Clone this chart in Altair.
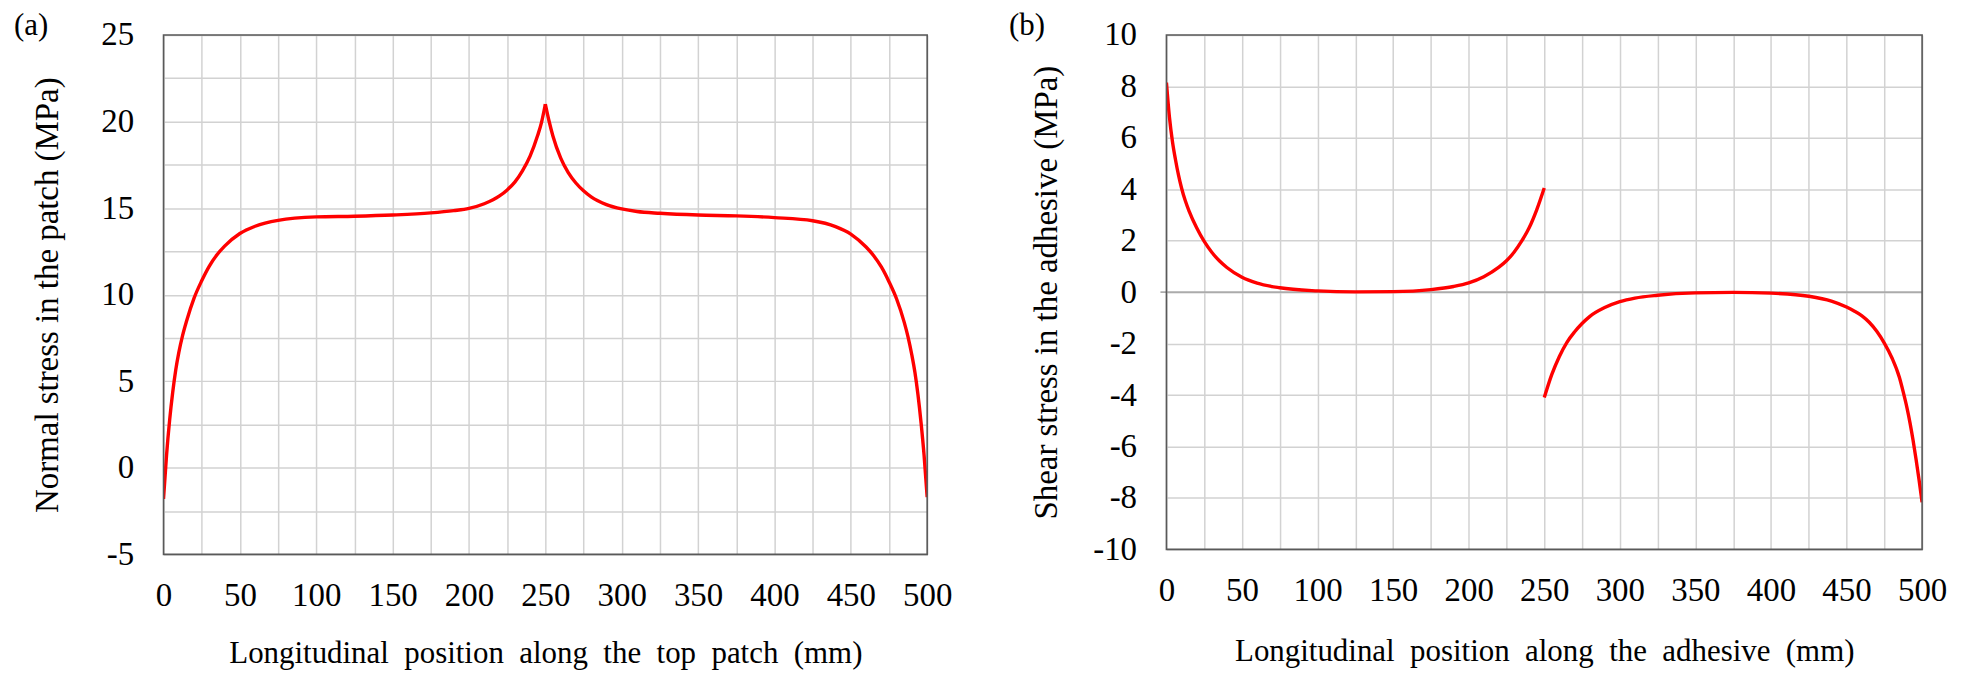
import altair as alt
import pandas as pd

# ---------------- data ----------------
# (a) normal stress in the patch, two branches meeting at the cusp x = 250 mm
a_left_x = [0, 2, 4, 6, 8, 10, 12.5, 15, 20, 25, 30, 35, 40, 50, 60, 75,
            100, 125, 150, 175, 190, 200, 210, 220, 225, 230, 235, 240, 245, 247.5, 250]
a_left_y = [-1.8, 0.75, 2.75, 4.35, 5.65, 6.65, 7.65, 8.45, 9.8, 10.8, 11.65, 12.3, 12.8, 13.53, 13.95, 14.29,
            14.49, 14.53, 14.6, 14.72, 14.85, 14.98, 15.25, 15.7, 16.05, 16.5, 17.15, 18.0, 19.2, 19.95, 21.0]
a_right_x = [250, 252.5, 255, 260, 265, 270, 275, 280, 290, 300, 310, 325, 350, 375, 400, 425,
             440, 450, 460, 465, 470, 475, 480, 485, 487.5, 490, 492, 494, 496, 498, 500]
a_right_y = [21.0, 20.0, 19.15, 17.9, 17.05, 16.45, 16.0, 15.65, 15.2, 14.95, 14.8, 14.7, 14.6, 14.55, 14.45, 14.27,
             13.93, 13.5, 12.75, 12.25, 11.6, 10.75, 9.75, 8.4, 7.55, 6.5, 5.5, 4.2, 2.6, 0.7, -1.7]

# (b) shear stress in the adhesive, discontinuous at x = 250 mm
b_left_x = [0, 2, 4, 6, 8, 10, 12.5, 15, 20, 25, 30, 35, 40, 50, 60, 75, 100, 125, 150,
            175, 190, 200, 210, 220, 225, 230, 235, 240, 245, 250]
b_left_y = [8.15, 6.8, 5.85, 5.15, 4.55, 4.05, 3.55, 3.15, 2.5, 1.97, 1.55, 1.22, 0.96, 0.58, 0.35, 0.17, 0.05, 0.01, 0.02,
            0.1, 0.22, 0.36, 0.6, 0.97, 1.22, 1.55, 1.98, 2.5, 3.2, 4.05]
b_right_x = [250, 255, 260, 265, 270, 275, 280, 290, 300, 310, 325, 350, 375, 400, 425,
             440, 450, 455, 460, 465, 470, 475, 480, 485, 487.5, 490, 492, 494, 496, 498, 500]
b_right_y = [-4.1, -3.2, -2.5, -1.95, -1.55, -1.22, -0.95, -0.6, -0.37, -0.23, -0.12, -0.03, -0.01, -0.04, -0.16,
             -0.35, -0.58, -0.73, -0.91, -1.17, -1.52, -1.98, -2.55, -3.32, -3.88, -4.5, -5.08, -5.75, -6.5, -7.3, -8.17]

x_ticks = list(range(0, 501, 25))
a_y_ticks = [v * 2.5 for v in range(-2, 11)]
b_y_ticks = list(range(-10, 11, 2))

panel_labels = ["(a)", "(b)"]
a_x_title = "Longitudinal position along the top patch (mm)"
b_x_title = "Longitudinal position along the adhesive (mm)"
a_y_title = "Normal stress in the patch (MPa)"
b_y_title = "Shear stress in the adhesive (MPa)"

FONT = "Liberation Serif"
RED = "#ff0000"
GRID = "#d2d2d2"
FRAME = "#595959"


def wide(s):
    return s.replace(" ", " \u00a0")


def frame(xs1, ys1, xs2, ys2):
    return pd.DataFrame({
        "x": xs1 + xs2,
        "y": ys1 + ys2,
        "seg": ["left"] * len(xs1) + ["right"] * len(xs2),
    })


df_a = frame(a_left_x, a_left_y, a_right_x, a_right_y)
df_b = frame(b_left_x, b_left_y, b_right_x, b_right_y)


def panel(df, ydom, yticks, ylabel_expr, xtitle, ytitle, w, h, label, lab_dx, lab_dy,
          ytitle_x, xtitle_y, zero_line):
    xenc = alt.X(
        "x:Q",
        scale=alt.Scale(domain=[0, 500], nice=False, zero=False),
        axis=alt.Axis(
            values=x_ticks,
            labelExpr="datum.value % 50 == 0 ? '' + datum.value : ''",
            title=wide(xtitle),
            grid=True, gridColor=GRID, gridWidth=1.5,
            ticks=False, tickSize=0, domain=False,
            labelFlush=False, labelOverlap=False,
            labelBaseline="alphabetic", labelPadding=51,
            labelFont=FONT, labelFontSize=33, labelColor="#000000",
            titleFont=FONT, titleFontSize=31, titleFontWeight="normal", titleColor="#000000",
            titleBaseline="alphabetic", titleY=xtitle_y, titleX=w / 2,
        ),
    )
    yenc = alt.Y(
        "y:Q",
        scale=alt.Scale(domain=ydom, nice=False, zero=False),
        axis=alt.Axis(
            values=yticks,
            labelExpr=ylabel_expr,
            title=ytitle,
            grid=True, gridColor=GRID, gridWidth=1.5,
            ticks=False, tickSize=0, domain=False,
            labelOverlap=False, labelFlush=False,
            labelPadding=30,
            labelFont=FONT, labelFontSize=33, labelColor="#000000",
            titleFont=FONT, titleFontSize=33, titleFontWeight="normal", titleColor="#000000",
            titleBaseline="alphabetic", titleX=ytitle_x, titleY=h / 2,
        ),
    )
    line = alt.Chart(df).mark_line(
        color=RED, strokeWidth=3.4, interpolate="monotone", clip=True
    ).encode(x=xenc, y=yenc, detail="seg:N")

    layers = []
    if zero_line:
        layers.append(
            alt.Chart(pd.DataFrame({"z": [0]})).mark_rule(color="#ababab", strokeWidth=1.6)
            .encode(y=alt.Y("z:Q"), x=alt.value(-6), x2=alt.value(w))
        )
    layers.append(line)
    box = alt.Chart(pd.DataFrame({"b": [0]})).mark_rect(
        filled=False, stroke=FRAME, strokeWidth=1.6
    ).encode(x=alt.value(0), x2=alt.value(w), y=alt.value(0), y2=alt.value(h))
    layers.append(box)
    txt = alt.Chart(pd.DataFrame({"t": [label]})).mark_text(
        font=FONT, fontSize=31, align="left", baseline="alphabetic", color="#000000"
    ).encode(x=alt.value(lab_dx), y=alt.value(lab_dy), text="t:N")
    layers.append(txt)
    return alt.layer(*layers).properties(width=w, height=h)


pa = panel(df_a, [-5, 25], a_y_ticks,
           "datum.value % 5 == 0 ? '' + datum.value : ''",
           a_x_title, a_y_title, 766, 521, panel_labels[0], -150, 0, -106, 108, False)
pb = panel(df_b, [-10, 10], b_y_ticks,
           "'' + datum.value",
           b_x_title, b_y_title, 758, 516, panel_labels[1], -158, 0, -110, 111, True)

chart = alt.hconcat(pa, pb, spacing=55).properties(
    padding={"left": 5, "top": 0, "right": 5, "bottom": 5}
).configure_view(
    stroke=FRAME, strokeWidth=1.5
).configure(background="#ffffff")

chart.save("out.html", embed_options={"renderer": "svg", "actions": False})
